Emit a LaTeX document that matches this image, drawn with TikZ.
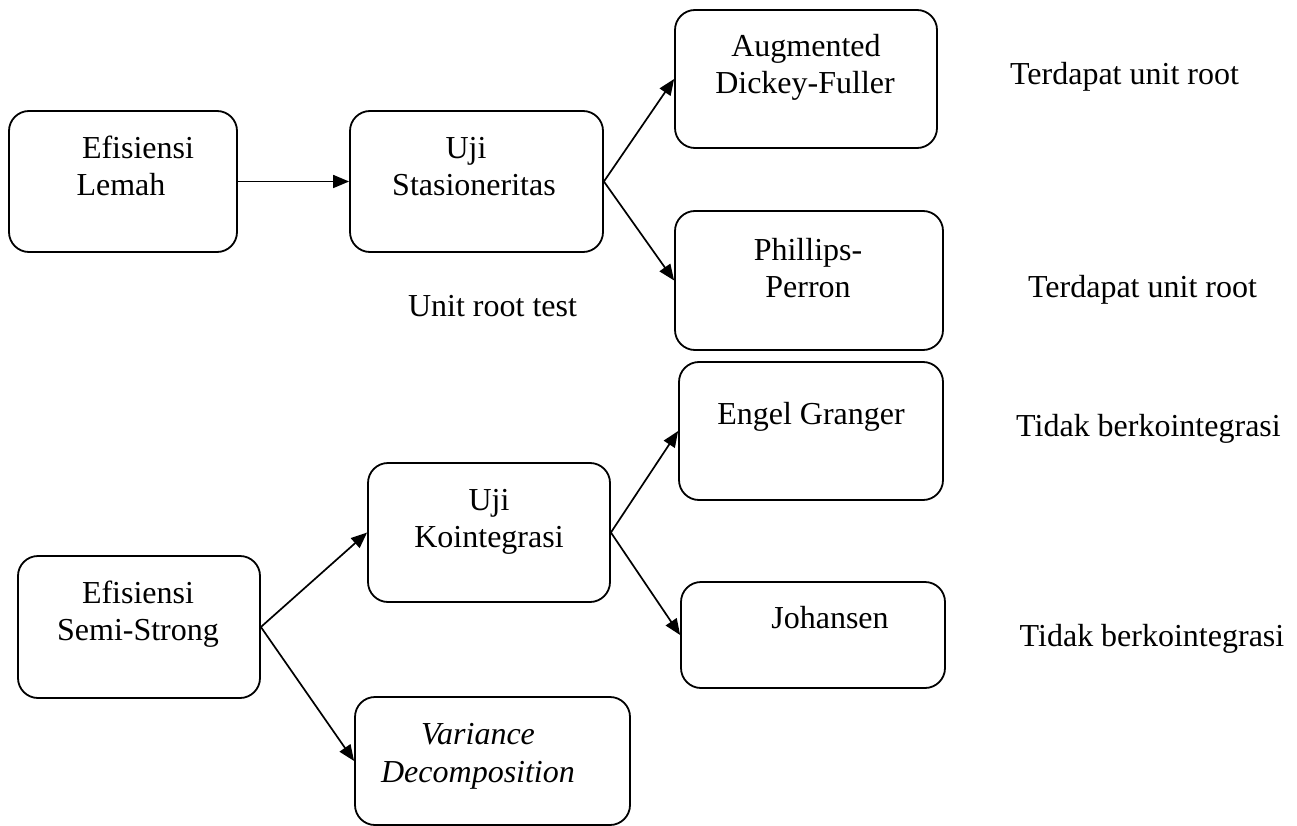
\documentclass[tikz,border=0pt]{standalone}
\usepackage{fontspec}
\setmainfont{Liberation Serif}
\usetikzlibrary{arrows.meta}
\begin{document}
\begin{tikzpicture}[x=1pt,y=-1pt,
  box/.style={draw=black,line width=1.8pt,rounded corners=20pt,inner sep=0pt},
  txt/.style={inner sep=0pt,anchor=base,font=\fontsize{32}{37}\selectfont},
  conn/.style={line width=1.7pt,-{Triangle[length=16pt,width=13pt]}}]
\useasboundingbox (0,0) rectangle (1297,826);
% boxes
\node[box,minimum width=228pt,minimum height=141pt] (lemah) at (123,181.5) {};
\node[box,minimum width=253pt,minimum height=141pt] (stas) at (476.5,181.5) {};
\node[box,minimum width=262pt,minimum height=138pt] (adf) at (806,79) {};
\node[box,minimum width=268pt,minimum height=139pt] (pp) at (809,280.5) {};
\node[box,minimum width=264pt,minimum height=138pt] (eg) at (811,431) {};
\node[box,minimum width=242pt,minimum height=139pt] (koin) at (489,532.5) {};
\node[box,minimum width=264pt,minimum height=106pt] (joh) at (813,635) {};
\node[box,minimum width=242pt,minimum height=142pt] (semi) at (139,627) {};
\node[box,minimum width=275pt,minimum height=128pt] (var) at (492.5,761) {};
% box texts
\node[txt] (lemahA) at (138,159) {Efisiensi};
\node[txt] (lemahB) at (121,196) {Lemah};
\node[txt] (stasA) at (466,159) {Uji};
\node[txt] (stasB) at (474,196) {Stasioneritas};
\node[txt] (adfA) at (806,57) {Augmented};
\node[txt] (adfB) at (805,94) {Dickey-Fuller};
\node[txt] (ppA) at (808,260) {Phillips-};
\node[txt] (ppB) at (808,297) {Perron};
\node[txt] (egA) at (811,424) {Engel Granger};
\node[txt] (johA) at (830,628) {Johansen};
\node[txt] (koinA) at (489,510) {Uji};
\node[txt] (koinB) at (489,547) {Kointegrasi};
\node[txt] (semiA) at (138,603) {Efisiensi};
\node[txt] (semiB) at (138,640) {Semi-Strong};
\node[txt,font=\fontsize{32}{37}\selectfont\itshape] (varA) at (478,744) {Variance};
\node[txt,font=\fontsize{32}{37}\selectfont\itshape] (varB) at (478,782) {Decomposition};
% free labels
\node[txt] (t1) at (1124.5,85) {Terdapat unit root};
\node[txt] (t2) at (1142.5,297) {Terdapat unit root};
\node[txt] (t3) at (1148.5,436) {Tidak berkointegrasi};
\node[txt] (t4) at (1152,646) {Tidak berkointegrasi};
\node[txt] (urt) at (492.5,316) {Unit root test};
% connectors
\draw[conn] (lemah.east) -- (stas.west);
\draw[conn] (stas.east) -- (adf.west);
\draw[conn] (stas.east) -- (pp.west);
\draw[conn] (koin.east) -- (eg.west);
\draw[conn] (koin.east) -- (joh.west);
\draw[conn] (semi.east) -- (koin.west);
\draw[conn] (semi.east) -- (var.west);
\end{tikzpicture}
\end{document}
